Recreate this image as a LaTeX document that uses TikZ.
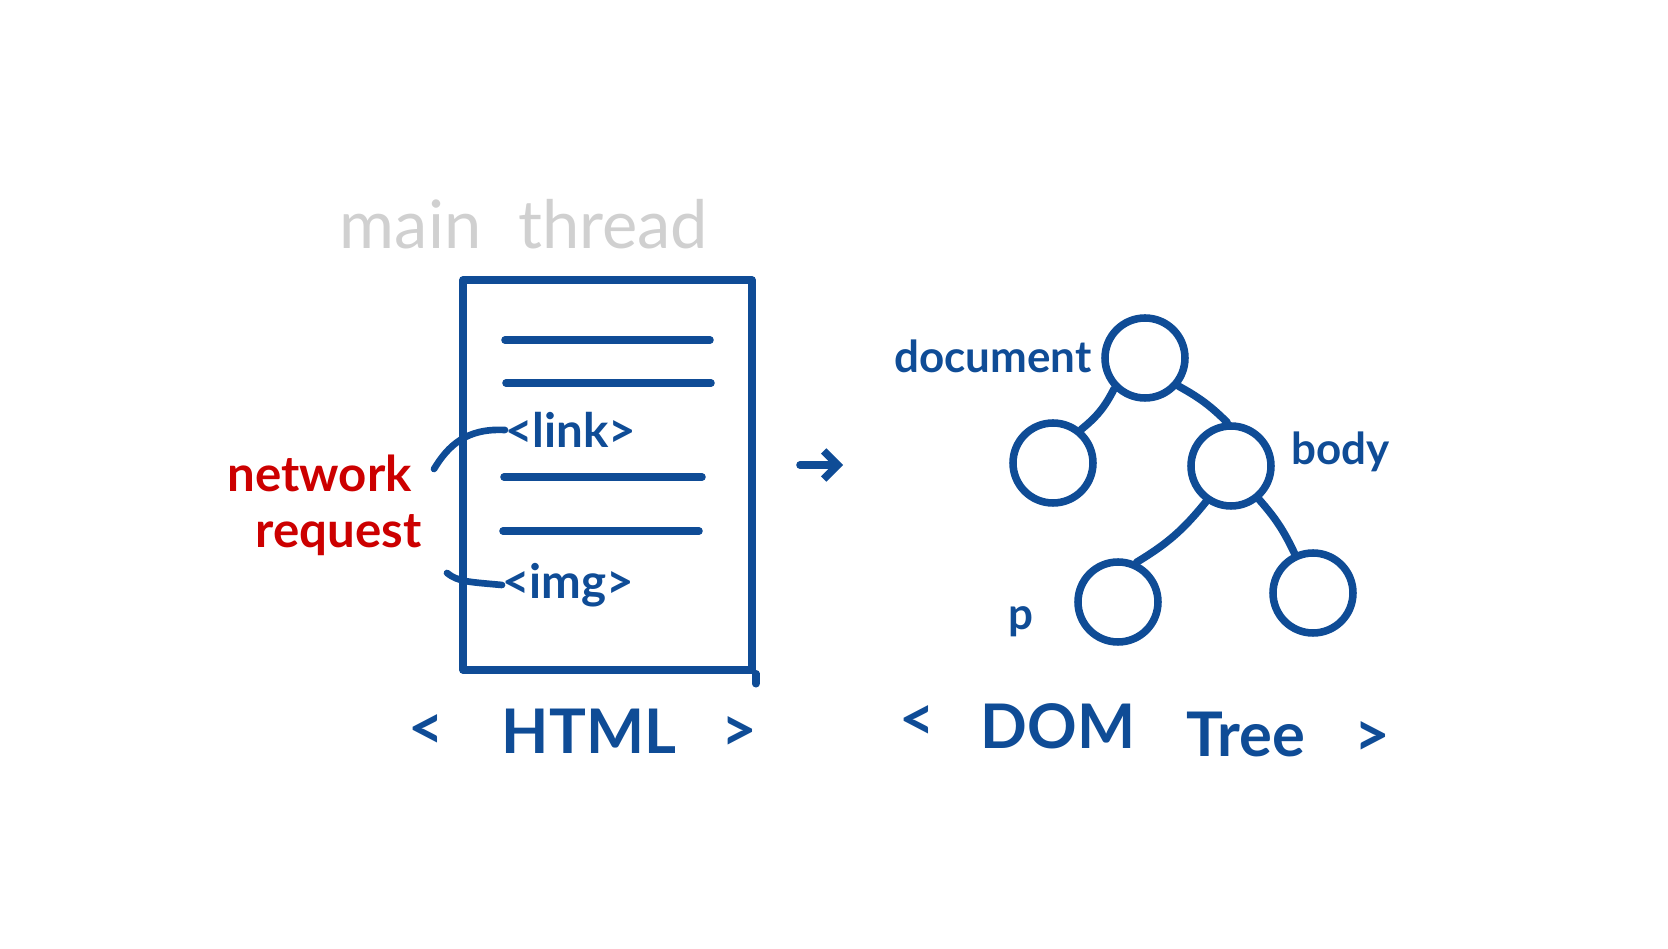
\documentclass[tikz,border=0pt]{standalone}
\usepackage{fontspec}
\setmainfont{Lato}
\usetikzlibrary{positioning,calc,arrows.meta}
\definecolor{inkblue}{HTML}{0F4C96}
\definecolor{inkred}{HTML}{CC0000}
\definecolor{inkgray}{HTML}{D0D0D0}
\tikzset{
  stroke/.style={line width=4.3pt,draw=inkblue,line cap=round,line join=round},
  page/.style={rectangle,stroke,minimum width=5.78cm,minimum height=7.8cm,inner sep=0},
  treenode/.style={circle,stroke,minimum size=1.6cm,inner sep=0},
  % little hand-drawn curves from the red note to the tags
  fetch/.style={stroke,line width=3.8pt},
  tag/.style={font=\bfseries\fontsize{27}{30}\selectfont,text=inkblue,inner sep=0},
  note/.style={font=\bfseries\fontsize{28}{32}\selectfont,text=inkred,inner sep=0},
  lab/.style={font=\bfseries\fontsize{25}{30}\selectfont,text=inkblue,inner sep=0},
  caption/.style={font=\bfseries\fontsize{35}{40}\selectfont,text=inkblue,inner sep=0},
  title/.style={font=\fontsize{38}{44}\selectfont,text=inkgray,inner sep=0},
}

\begin{document}
\begin{tikzpicture}[x=0.02cm,y=-0.02cm]
  \useasboundingbox (0,0) rectangle (1668,949);
  \node[title] (thread) at (524,224) {main\hspace{0.55em}thread};
  % the html page, lines of markup inside
  \node[page] (html) at (607.5,475) {};
  \draw[stroke] (html.south east) -- ++(0,10);
  \foreach \y/\xa/\xb in {340/505/710, 383/506/711, 477/504/702, 531/503/699}
    \draw[stroke] (\xa,\y) -- (\xb,\y);
  \node[tag,anchor=west] (link) at (505,430) {<link>};
  \node[tag,anchor=west] (img) at (502,585) {<img>};
  \node[note,anchor=east] (net) at (412,473) {network};
  \node[note,anchor=east] (req) at (422,535) {request};
  \coordinate (netend) at (434,469);
  \coordinate (reqend) at (447,573);
  \draw[fetch] (netend) .. controls (448,446) and (466,428) .. (link.west);
  \draw[fetch] (reqend) .. controls (458,582) and (470,582) .. (img.west);
  % parse step
  \coordinate (parsefrom) at (800,465);
  \coordinate (parseto) at (843,465);
  \draw[stroke,-{Straight Barb[length=8pt,width=16pt]}] (parsefrom) -- (parseto);
  % dom tree
  \node[treenode] (doc) at (1145,358) {};
  \node[treenode] (leaf) at (1053,463) {};
  \node[treenode] (body) at (1231,466) {};
  \node[treenode] (par) at (1118,602) {};
  \node[treenode] (leaf2) at (1313,593) {};
  \draw[stroke] (doc.225) to[bend left=12] (leaf.50);
  \draw[stroke] (doc.320) to[bend left=8] (body.95);
  \draw[stroke] (body.235) to[bend left=10] (par.65);
  \draw[stroke] (body.310) to[bend left=8] (leaf2.115);
  \node[lab,anchor=east] (doclab) at (1092,356) {document};
  \node[lab,anchor=west] (bodylab) at (1291,452) {body};
  \node[lab] (plab) at (1021,622) {p};
  % captions
  \node[caption] (hl) at (426,732) {<};
  \node[caption] (ht) at (589,731) {HTML};
  \node[caption] (hr) at (739,734) {>};
  \node[caption] (dl) at (917,723) {<};
  \node[caption] (dt) at (1058,726) {DOM};
  \node[caption] (tt) at (1246,734) {Tree};
  \node[caption] (dr) at (1372,739) {>};
\end{tikzpicture}
\end{document}
